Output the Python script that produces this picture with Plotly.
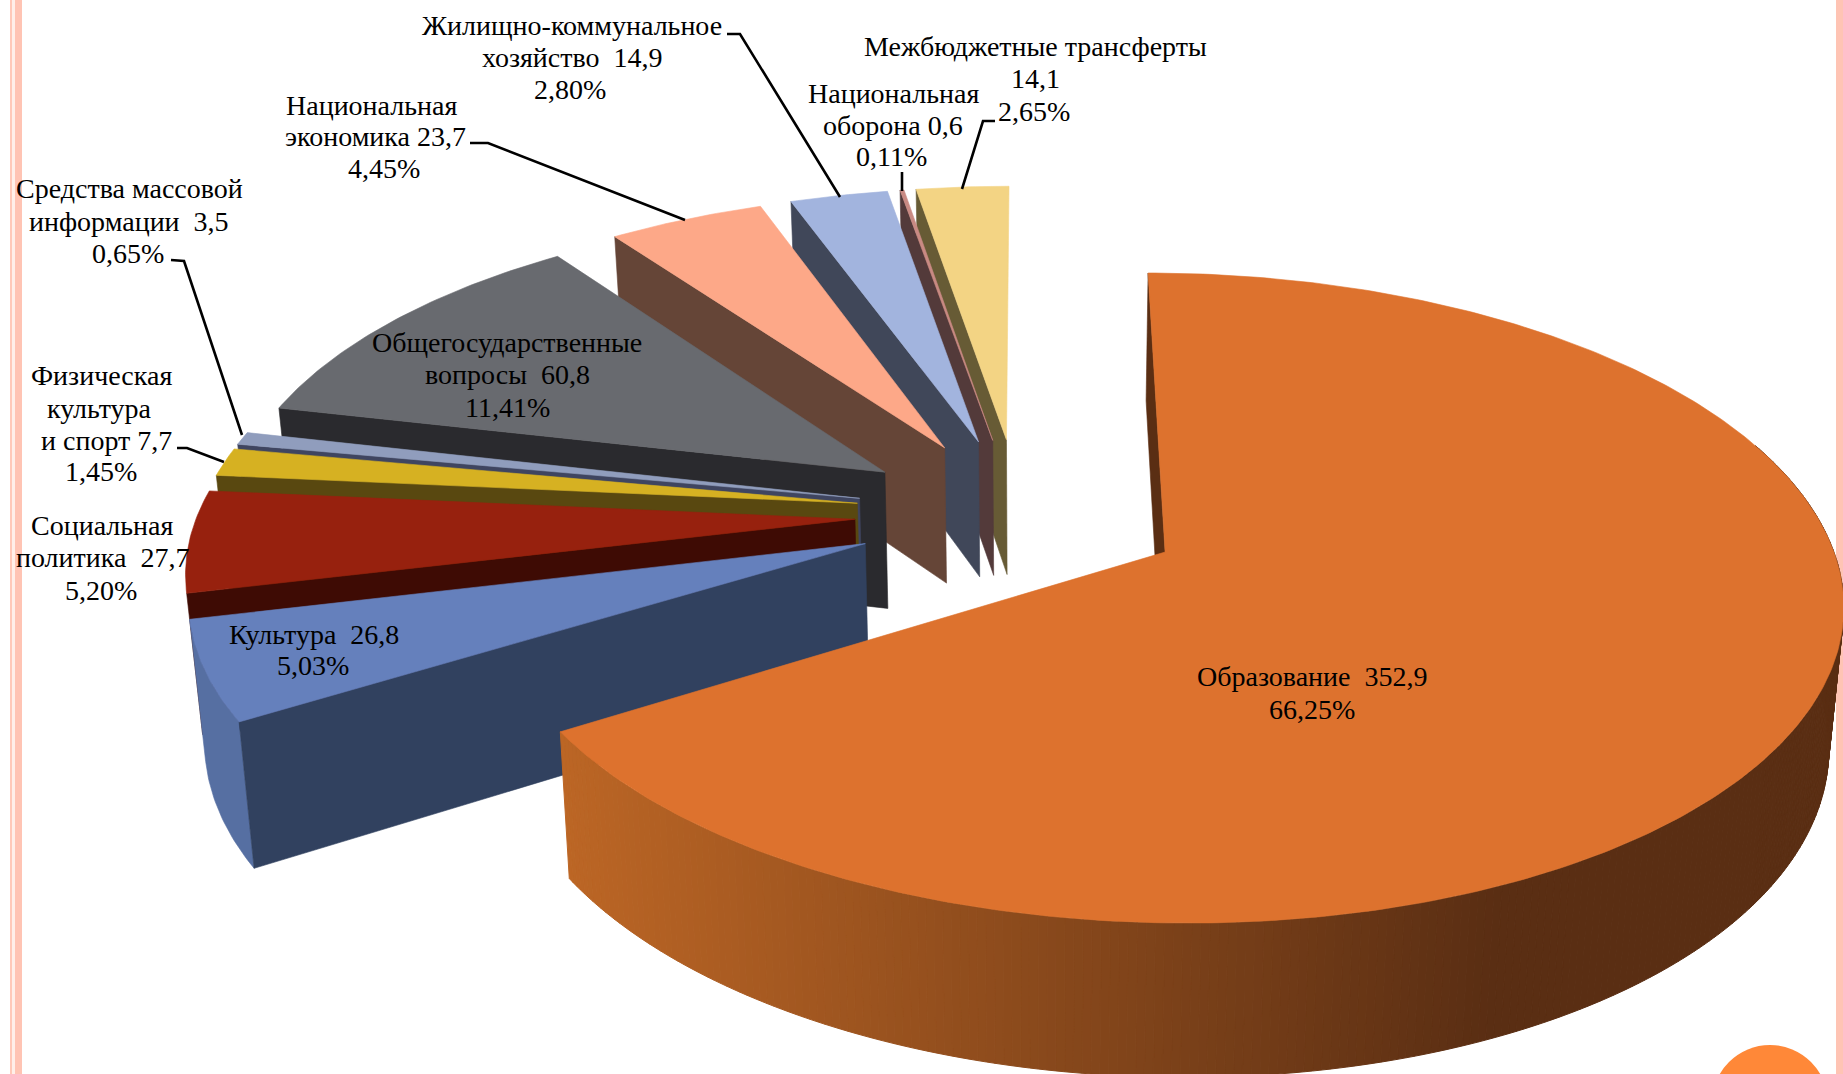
import math
import plotly.graph_objects as go

# ---- data -----------------------------------------------------------------
categories = ["Образование", "Культура", "Социальная политика", "Физическая культура и спорт",
              "Средства массовой информации", "Общегосударственные вопросы",
              "Национальная экономика", "Жилищно-коммунальное хозяйство",
              "Национальная оборона", "Межбюджетные трансферты"]
values = [352.9, 26.8, 27.7, 7.7, 3.5, 60.8, 23.7, 14.9, 0.6, 14.1]
percent_labels = ["66,25%", "5,03%", "5,20%", "1,45%", "0,65%", "11,41%", "4,45%", "2,80%", "0,11%", "2,65%"]

top_colors = ["#DD722E", "#6580BC", "#97210E", "#D6B122", "#909DBD", "#686A6F", "#FDA888", "#A2B4DE", "#C98A83", "#F3D484"]
wall_colors = ["#5A2E13", "#31415F", "#3E0B04", "#594810", "#3F4560", "#2A2A2E", "#654537", "#404759", "#533A3A", "#675B35"]
arc_colors = [None, "#566FA2", None, None, None, None, None, None, None, None]

NB = "\u00a0"
label_lines = [
    [("Образование" + NB + NB + "352,9", 1312, 676), ("66,25%", 1312, 709)],
    [("Культура" + NB + NB + "26,8", 314, 634), ("5,03%", 313, 665)],
    [("Социальная", 102, 525), ("политика" + NB + NB + "27,7", 102, 557), ("5,20%", 101, 590)],
    [("Физическая", 101, 375), ("культура", 99, 408), ("и спорт 7,7", 106, 440), ("1,45%", 101, 471)],
    [("Средства массовой", 129, 188), ("информации" + NB + NB + "3,5", 129, 221), ("0,65%", 128, 253)],
    [("Общегосударственные", 507, 342), ("вопросы" + NB + NB + "60,8", 507, 374), ("11,41%", 507, 407)],
    [("Национальная", 371, 105), ("экономика 23,7", 375, 136), ("4,45%", 384, 168)],
    [("Жилищно-коммунальное", 572, 25), ("хозяйство" + NB + NB + "14,9", 572, 57), ("2,80%", 570, 89)],
    [("Национальная", 893, 93), ("оборона 0,6", 893, 125), ("0,11%", 891, 156)],
    [("Межбюджетные трансферты", 1035, 46), ("14,1", 1035, 78), ("2,65%", 1034, 111)],
]
leaders = [
    [(171, 260), (184, 261), (242, 435)],
    [(177, 448), (187, 448), (224, 462)],
    [(470, 143), (488, 143), (685, 220)],
    [(727, 34), (740, 34), (840, 197)],
    [(902, 172), (902, 191)],
    [(995, 121), (983, 121), (962, 189)],
]

# ---- 3-D pie projection ---------------------------------------------------
EXPLODE = 0.25
CX, CY = -0.218, 0.122
K = 0.1415
AX, CV = 668.8, 318.5
VP_X, U0, V0 = 1028.0, 1165.0, 552.0
HZ, HP = 139.5, 0.66
BT, BX = 0.0187, 1041.0


def top(X, Y):
    w = 1 + K * Y
    return VP_X + (AX * X + (U0 - VP_X)) / w, V0 - CV * Y / w


def bottom(X, Y):
    u, v = top(X, Y)
    w = 1 + K * Y
    return u + (BX - u) * BT, v + HZ / w ** HP


def poly(points, color, width=0.6):
    xs = [p[0] for p in points] + [points[0][0]]
    ys = [p[1] for p in points] + [points[0][1]]
    return go.Scatter(x=xs, y=ys, mode="lines", fill="toself", fillcolor=color,
                      line=dict(color=color, width=width), hoverinfo="skip", showlegend=False)


def mix(t):
    t = max(0.0, min(1.0, t))
    a, b = (188, 102, 37), (90, 46, 19)
    return "rgb(%d,%d,%d)" % tuple(round(a[i] + (b[i] - a[i]) * t) for i in range(3))


total = sum(values)
angles = [0.0]
for v in values:
    angles.append(angles[-1] + 360.0 * v / total)

traces = []
order = list(range(1, len(values)))[::-1] + [0]  # back to front
for i in order:
    a0, a1 = angles[i], angles[i + 1]
    mid = math.radians((a0 + a1) / 2)
    ox = CX + EXPLODE * math.sin(mid)
    oy = CY + EXPLODE * math.cos(mid)
    n = max(2, int((a1 - a0) * 1.5))
    th = [a0 + (a1 - a0) * j / n for j in range(n + 1)]
    rim = [(ox + math.sin(math.radians(t)), oy + math.cos(math.radians(t))) for t in th]

    # outer wall
    if i == 0:
        for j in range(n):
            if th[j + 1] < 70:
                continue
            p, q = rim[j], rim[j + 1]
            ut = top(*p)[0]
            c = mix((ut - 560) / 940)
            traces.append(poly([top(*p), top(*q), bottom(*q), bottom(*p)], c, 1))
    elif arc_colors[i]:
        seg = rim
        traces.append(poly([top(*p) for p in seg] + [bottom(*p) for p in seg[::-1]], arc_colors[i]))

    # start radial wall
    traces.append(poly([top(ox, oy), top(*rim[0]), bottom(*rim[0]), bottom(ox, oy)], wall_colors[i]))
    # top face
    traces.append(poly([top(ox, oy)] + [top(*p) for p in rim], top_colors[i]))

fig = go.Figure(traces)

shapes = [
    dict(type="rect", x0=10, x1=12, y0=0, y1=1074, fillcolor="#FFC9B9", line_width=0, layer="below"),
    dict(type="rect", x0=12, x1=15, y0=0, y1=1074, fillcolor="#FFEFE9", line_width=0, layer="below"),
    dict(type="rect", x0=15, x1=22, y0=0, y1=1074, fillcolor="#FFC4B4", line_width=0, layer="below"),
    dict(type="rect", x0=1836, x1=1843, y0=0, y1=1074, fillcolor="#FFC4B4", line_width=0, layer="below"),
    dict(type="circle", x0=1712, x1=1828, y0=1045, y1=1161, fillcolor="#FF8838", line_width=0, layer="below"),
]
for pts in leaders:
    path = "M " + " L ".join(f"{x},{y}" for x, y in pts)
    shapes.append(dict(type="path", path=path, line=dict(color="black", width=2.6), layer="above"))

annotations = []
for lines in label_lines:
    for text, x, y in lines:
        annotations.append(dict(x=x, y=y, text=text, showarrow=False, xanchor="center", yanchor="middle",
                                font=dict(family="Liberation Serif", size=28, color="black")))

fig.update_layout(
    width=1843, height=1074, margin=dict(l=0, r=0, t=0, b=0),
    paper_bgcolor="white", plot_bgcolor="white", showlegend=False,
    xaxis=dict(range=[0, 1843], visible=False, fixedrange=True),
    yaxis=dict(range=[1074, 0], visible=False, fixedrange=True),
    shapes=shapes, annotations=annotations,
)
fig.write_html("out.html", config={"displayModeBar": False},
               post_script="document.body.style.margin='0';")
